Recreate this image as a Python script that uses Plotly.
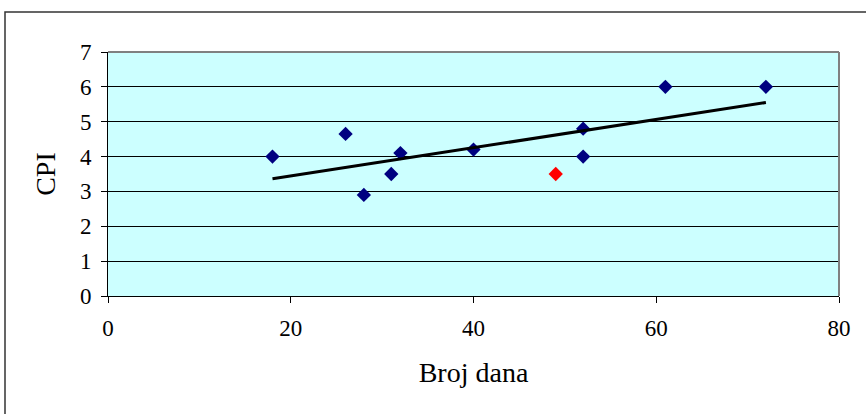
import numpy as np
import plotly.graph_objects as go

# data
days = [18, 26, 28, 31, 32, 40, 52, 52, 61, 72]
cpi = [4.0, 4.65, 2.9, 3.5, 4.1, 4.2, 4.8, 4.0, 6.0, 6.0]
red_days = [49]
red_cpi = [3.5]

all_x = np.array(days + red_days, dtype=float)
all_y = np.array(cpi + red_cpi, dtype=float)
slope, intercept = np.polyfit(all_x, all_y, 1)
tx = np.array([all_x.min(), all_x.max()])
ty = slope * tx + intercept

font = "Liberation Serif, Times New Roman, serif"

fig = go.Figure()
fig.add_trace(go.Scatter(x=days, y=cpi, mode="markers",
                         marker=dict(symbol="diamond", size=11, color="#000080", line=dict(width=0)),
                         showlegend=False, cliponaxis=False))
fig.add_trace(go.Scatter(x=tx, y=ty, mode="lines",
                         line=dict(color="black", width=3), showlegend=False))
fig.add_trace(go.Scatter(x=red_days, y=red_cpi, mode="markers",
                         marker=dict(symbol="diamond", size=11, color="#FF0000", line=dict(width=0)),
                         showlegend=False))

fig.update_layout(
    width=866, height=414,
    margin=dict(l=108, r=27, t=52, b=118),
    paper_bgcolor="white",
    plot_bgcolor="#CCFFFF",
    font=dict(family=font, color="black", size=22),
    xaxis=dict(range=[0, 80], dtick=20, showgrid=False, zeroline=False,
               showline=True, linecolor="black", linewidth=1,
               ticks="outside", ticklen=6, tickcolor="black",
               tickfont=dict(size=23), ticklabelstandoff=5,
               title=dict(text="Broj dana", font=dict(size=28), standoff=22)),
    yaxis=dict(range=[0, 7], dtick=1, showgrid=True, gridcolor="black", gridwidth=1,
               zeroline=False, showline=True, linecolor="black", linewidth=1,
               ticks="outside", ticklen=6, tickcolor="black",
               tickfont=dict(size=23), ticklabelstandoff=5,
               title=dict(text="CPI", font=dict(size=28), standoff=16)),
    shapes=[
        dict(type="line", xref="paper", yref="paper", x0=0, x1=1, y0=1, y1=1,
             line=dict(color="#808080", width=2)),
        dict(type="line", xref="paper", yref="paper", x0=1, x1=1, y0=0, y1=1,
             line=dict(color="#808080", width=2)),
        dict(type="rect", xref="paper", yref="paper", x0=-0.1409, x1=1.05, y0=-0.6, y1=1.1639,
             line=dict(color="#333333", width=1.5)),
    ],
)

fig.write_html("out.html")
